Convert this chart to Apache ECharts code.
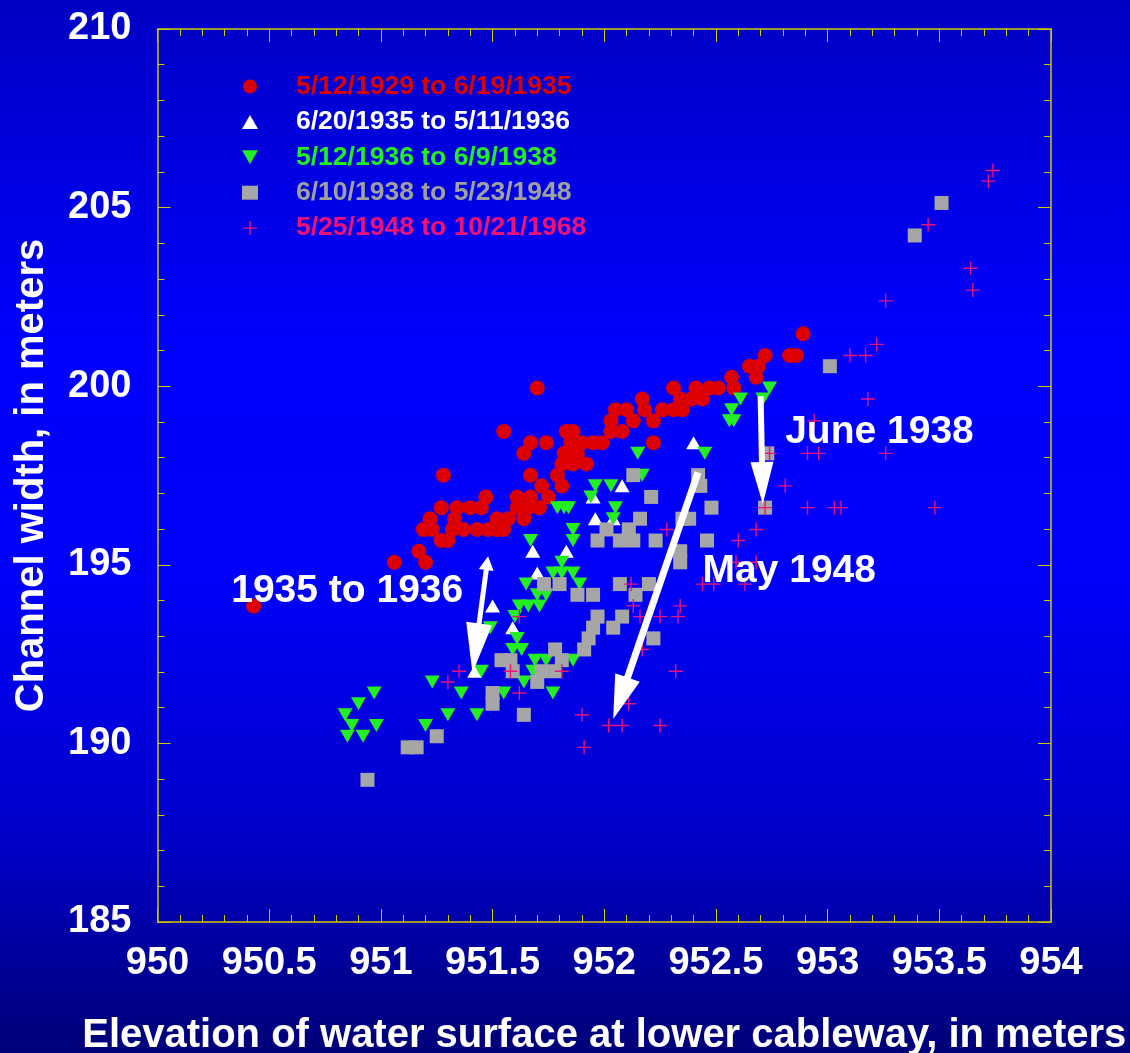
<!DOCTYPE html>
<html>
<head>
<meta charset="utf-8">
<script src="https://cdn.jsdelivr.net/npm/echarts@6/dist/echarts.min.js"></script>
<style>
  html, body { margin: 0; padding: 0; background: #0000c8; }
  #chart { width: 1130px; height: 1053px; }
</style>
</head>
<body>
<div id="chart"></div>
<script>
// Channel width vs. water-surface elevation, grouped by survey period.
const seriesNames = [
  '5/12/1929 to 6/19/1935',
  '6/20/1935 to 5/11/1936',
  '5/12/1936 to 6/9/1938',
  '6/10/1938 to 5/23/1948',
  '5/25/1948 to 10/21/1968'
];

// [elevation (m), channel width (m)]
const period1929to1935 = [
  [950.43,193.85],[951.06,195.07],[951.17,195.38],[951.20,195.07],[951.27,195.68],[951.30,195.68],
  [951.19,195.99],[951.23,195.99],[951.32,195.99],[951.37,195.99],[951.43,195.99],[951.48,195.99],[951.52,195.99],[951.55,195.99],
  [951.22,196.29],[951.33,196.29],[951.52,196.29],[951.57,196.29],[951.64,196.29],
  [951.27,196.60],[951.34,196.60],[951.40,196.60],[951.45,196.60],[951.61,196.60],[951.66,196.60],[951.71,196.60],
  [951.47,196.90],[951.61,196.90],[951.67,196.90],[951.75,196.90],
  [951.72,197.21],[951.81,197.21],
  [951.28,197.51],[951.67,197.51],[951.79,197.51],
  [951.81,197.82],[951.86,197.82],[951.92,197.82],
  [951.64,198.12],[951.82,198.12],[951.88,198.12],
  [951.67,198.42],[951.74,198.42],[951.85,198.42],[951.90,198.42],[951.95,198.42],[951.99,198.42],[952.22,198.42],
  [951.55,198.73],[951.83,198.73],[951.86,198.73],[952.03,198.73],[952.08,198.73],
  [952.03,199.03],[952.13,199.03],[952.22,199.03],
  [952.05,199.34],[952.10,199.34],[952.18,199.34],[952.26,199.34],[952.31,199.34],[952.35,199.34],
  [952.17,199.64],[952.34,199.64],[952.39,199.64],[952.44,199.64],
  [951.70,199.95],[952.31,199.95],[952.41,199.95],[952.47,199.95],[952.51,199.95],[952.58,199.95],
  [952.57,200.25],[952.68,200.25],
  [952.65,200.56],[952.69,200.56],
  [952.72,200.86],[952.83,200.86],[952.86,200.86],
  [952.89,201.47]
];

const period1935to1936 = [
  [952.40,198.42],[952.08,197.21],[951.95,196.90],[951.96,196.29],[952.04,196.29],[951.68,195.38],
  [951.83,195.38],[951.70,194.77],[951.50,193.85],[951.59,193.24],[951.42,192.02]
];

const period1936to1938 = [
  [952.74,199.95],[952.61,199.64],[952.71,199.64],[952.57,199.34],[952.56,199.03],[952.58,199.03],
  [952.15,198.12],[952.45,198.12],[952.17,197.51],[951.96,197.21],[952.03,197.21],[951.94,196.90],
  [952.05,196.60],[952.04,196.29],[951.79,196.60],[951.82,196.60],[951.84,196.60],
  [951.86,195.99],[951.86,195.68],[951.67,195.68],[951.81,195.07],
  [951.77,194.77],[951.81,194.77],[951.86,194.77],[951.89,194.46],[951.65,194.46],
  [951.70,194.16],[951.74,194.16],[951.62,193.85],[951.66,193.85],[951.71,193.85],[951.60,193.55],
  [951.61,192.94],[951.59,192.63],[951.63,192.63],[951.69,192.33],[951.74,192.33],[951.86,192.33],
  [951.68,192.02],[951.64,191.72],[951.77,191.41],[951.55,191.41],[951.49,193.24],[951.45,192.02],
  [951.36,191.41],[951.30,190.80],[951.43,190.80],[951.23,191.72],[951.20,190.50],
  [950.97,191.41],[950.90,191.11],[950.84,190.80],[950.87,190.50],[950.98,190.50],[950.85,190.20],[950.92,190.20]
];

const period1938to1948 = [
  [950.94,188.98],[951.12,189.89],[951.16,189.89],[951.25,190.20],[951.50,191.41],[951.50,191.11],[951.64,190.80],
  [951.54,192.33],[951.58,192.33],[951.59,192.02],[951.70,191.72],[951.72,192.02],[951.78,192.02],[951.78,192.63],[951.81,192.33],
  [951.73,194.46],[951.80,194.46],[951.88,194.16],[951.95,194.16],[951.91,192.63],[951.93,192.94],[951.97,193.55],[951.95,193.24],
  [952.04,193.24],[952.08,193.55],
  [951.97,195.68],[952.01,195.99],[952.07,195.68],[952.11,195.99],[952.13,195.68],[952.16,196.29],[952.21,196.90],[952.13,197.51],
  [952.23,195.68],[952.07,194.46],[952.14,194.16],[952.20,194.46],[952.22,192.94],[952.34,195.38],[952.34,195.07],
  [952.35,196.29],[952.38,196.29],[952.46,195.68],[952.42,197.51],[952.43,197.21],[952.48,196.60],
  [952.72,196.60],[952.73,198.12],[953.01,200.56],[953.39,204.22],[953.51,205.13]
];

const period1948to1968 = [
  [953.74,206.04],[953.72,205.74],[953.45,204.52],[953.64,203.30],[953.65,202.69],[953.26,202.39],
  [953.22,201.17],[953.10,200.86],[953.17,200.86],[953.18,199.64],[952.94,199.03],
  [952.74,198.12],[952.91,198.12],[952.96,198.12],[953.26,198.12],[952.81,197.21],
  [952.72,196.60],[952.91,196.60],[953.03,196.60],[953.06,196.60],[953.48,196.60],
  [952.68,195.99],[952.60,195.68],[952.28,195.99],[952.59,195.07],[952.68,195.07],
  [952.44,194.46],[952.49,194.46],[952.63,194.46],[952.12,194.46],[952.13,193.85],[952.34,193.85],
  [952.16,193.55],[952.25,193.55],[952.33,193.55],[952.17,192.63],[952.32,192.02],[952.11,191.11],
  [951.90,190.80],[952.02,190.50],[952.08,190.50],[952.25,190.50],[951.91,189.89],
  [951.62,193.55],[951.58,192.02],[951.81,192.02],[951.35,192.02],[951.30,191.72],[951.62,191.41]
];

// Arrow annotations: [fromX, fromY, toX, toY] in data units (tip at "to").
const arrowSegments = [
  [951.48, 195.24, 951.41, 191.97],
  [952.70, 199.72, 952.71, 196.70],
  [952.42, 197.59, 952.04, 190.68]
];

// Text annotations, anchored at their left edge / vertical middle.
const noteTexts = ['1935 to 1936', 'June 1938', 'May 1948'];
const noteAnchors = [[950.33, 194.26], [952.81, 198.71], [952.44, 194.82]];

const xTicks = { min: 950, max: 954, step: 0.5 };
const yTicks = { min: 185, max: 210, step: 5 };

// ---- styling ----
const FONT = '"Liberation Sans", Arial, Helvetica, sans-serif';
const AXIS_YELLOW = '#d2c800';
const markerColors = ['#dd0000', '#ffffff', '#22ee22', '#a6a6a6', '#e8137a'];
const legendTextColors = ['#dd0000', '#ffffff', '#22ee22', '#a0a0a0', '#ee1177'];
const symbols = [
  'circle',
  'triangle',
  'path://M0,0L2,0L1,1.75Z',
  'rect',
  'path://M0,6.3H14V7.7H0ZM6.3,0H7.7V14H6.3Z'
];
const symbolSizes = [15, [15, 13], [15, 13], 14, 14];
const seriesData = [period1929to1935, period1935to1936, period1936to1938, period1938to1948, period1948to1968];

// head: [width, length] at the tip; tail: optional head at the start
const arrowLook = [
  { shaft: 5, head: [26, 50], tail: [15, 14] },
  { shaft: 6, head: [23, 42] },
  { shaft: 7, head: [26, 44] }
];

function renderArrow(params, api) {
  const a = api.coord([api.value(0), api.value(1)]);
  const b = api.coord([api.value(2), api.value(3)]);
  const s = arrowLook[params.dataIndex];
  const dx = b[0] - a[0], dy = b[1] - a[1];
  const len = Math.hypot(dx, dy);
  const ux = dx / len, uy = dy / len, nx = -uy, ny = ux;
  const headAt = (tip, dir, w, l) => {
    const bx = tip[0] - dir * ux * l, by = tip[1] - dir * uy * l;
    return {
      type: 'polygon',
      shape: { points: [[tip[0], tip[1]], [bx + nx * w / 2, by + ny * w / 2], [bx - nx * w / 2, by - ny * w / 2]] },
      style: { fill: '#ffffff' }
    };
  };
  const startInset = s.tail ? s.tail[1] * 0.8 : 0;
  const endInset = s.head[1] * 0.8;
  const children = [{
    type: 'line',
    shape: {
      x1: a[0] + ux * startInset, y1: a[1] + uy * startInset,
      x2: b[0] - ux * endInset, y2: b[1] - uy * endInset
    },
    style: { stroke: '#ffffff', lineWidth: s.shaft }
  }, headAt(b, 1, s.head[0], s.head[1])];
  if (s.tail) children.push(headAt(a, -1, s.tail[0], s.tail[1]));
  return { type: 'group', children };
}

function renderNote(params, api) {
  const p = api.coord([api.value(0), api.value(1)]);
  return {
    type: 'text',
    x: p[0], y: p[1],
    style: {
      text: noteTexts[params.dataIndex],
      fill: '#ffffff',
      font: 'bold 39px ' + FONT,
      align: 'left',
      verticalAlign: 'middle'
    }
  };
}

const tickLabel = { color: '#ffffff', fontFamily: FONT, fontWeight: 'bold', fontSize: 38 };
const titleStyle = { color: '#ffffff', fontFamily: FONT, fontWeight: 'bold', fontSize: 40 };
const frameAxis = (extra) => Object.assign({
  type: 'value',
  axisLine: { show: true, onZero: false, lineStyle: { color: AXIS_YELLOW, width: 1.5 } },
  axisTick: { show: true, inside: true, length: 13, lineStyle: { color: AXIS_YELLOW, width: 1 } },
  minorTick: { show: true, splitNumber: 5, length: 7, lineStyle: { color: AXIS_YELLOW, width: 1 } },
  splitLine: { show: false },
  minorSplitLine: { show: false }
}, extra);

const chart = echarts.init(document.getElementById('chart'), null, { renderer: 'canvas' });

chart.setOption({
  animation: false,
  backgroundColor: {
    type: 'linear', x: 0, y: 0, x2: 0, y2: 1,
    colorStops: [
      { offset: 0, color: '#0000c4' },
      { offset: 0.33, color: '#0000ff' },
      { offset: 0.55, color: '#0000fa' },
      { offset: 0.8, color: '#0000c8' },
      { offset: 1, color: '#000078' }
    ]
  },
  grid: { left: 157.5, right: 79, top: 29, bottom: 131, containLabel: false, outerBoundsMode: 'none' },
  legend: {
    orient: 'vertical',
    left: 237,
    top: 68,
    itemWidth: 16,
    itemHeight: 14,
    itemGap: 8.4,
    selectedMode: false,
    textStyle: { fontFamily: FONT, fontWeight: 'bold', fontSize: 26.5, padding: [0, 0, 0, 33] },
    data: seriesNames.map((n, i) => ({ name: n, icon: symbols[i], textStyle: { color: legendTextColors[i] } }))
  },
  xAxis: [
    frameAxis({
      position: 'bottom', min: xTicks.min, max: xTicks.max, interval: xTicks.step,
      axisLabel: Object.assign({ margin: 23 }, tickLabel),
      name: 'Elevation of water surface at lower cableway, in meters',
      nameLocation: 'middle', nameGap: 94,
      nameTextStyle: titleStyle
    }),
    frameAxis({
      position: 'top', min: xTicks.min, max: xTicks.max, interval: xTicks.step,
      axisLabel: { show: false }
    })
  ],
  yAxis: [
    frameAxis({
      position: 'left', min: yTicks.min, max: yTicks.max, interval: yTicks.step,
      axisLabel: Object.assign({ margin: 26 }, tickLabel),
      name: 'Channel width, in meters',
      nameLocation: 'middle', nameGap: 106,
      nameTextStyle: titleStyle
    }),
    frameAxis({
      position: 'right', min: yTicks.min, max: yTicks.max, interval: yTicks.step,
      axisLabel: { show: false }
    })
  ],
  series: seriesNames.map((name, i) => ({
    name,
    type: 'scatter',
    xAxisIndex: 0,
    yAxisIndex: 0,
    symbol: symbols[i],
    symbolSize: symbolSizes[i],
    itemStyle: { color: markerColors[i], opacity: 1 },
    emphasis: { disabled: true },
    silent: true,
    z: 2 + i * 0.1,
    data: seriesData[i]
  })).concat([
    {
      name: 'arrows',
      type: 'custom',
      xAxisIndex: 0, yAxisIndex: 0,
      renderItem: renderArrow,
      data: arrowSegments,
      silent: true,
      z: 5
    },
    {
      name: 'notes',
      type: 'custom',
      xAxisIndex: 0, yAxisIndex: 0,
      renderItem: renderNote,
      data: noteAnchors,
      silent: true,
      z: 6
    }
  ])
});
</script>
</body>
</html>
